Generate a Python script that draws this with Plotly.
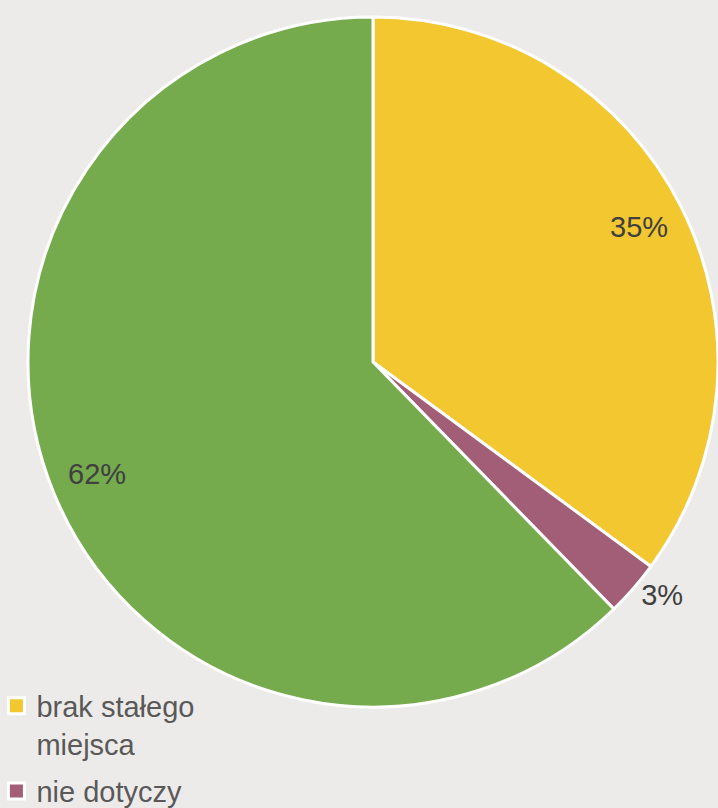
import math
import plotly.graph_objects as go

labels = ["brak stałego<br>miejsca", "nie dotyczy", "stałe miejsce"]
values = [35.1, 2.6, 62.3]
colors = ["#F2C72F", "#A25E77", "#75AA4D"]
text_labels = ["35%", "3%", "62%"]
inside = [True, False, True]

W, H = 718, 808
dom_x = [0.039, 1.0]
dom_y = [0.1238, 0.9802]
FONT = "Liberation Sans, Arial, sans-serif"

fig = go.Figure()
fig.add_trace(go.Pie(
    labels=labels,
    values=values,
    text=[t if not ins else "" for t, ins in zip(text_labels, inside)],
    textinfo="text",
    textposition=["inside" if ins else "outside" for ins in inside],
    sort=False,
    direction="clockwise",
    rotation=0,
    marker=dict(colors=colors, line=dict(color="white", width=3)),
    textfont=dict(family=FONT, size=29, color="#404040"),
    domain=dict(x=dom_x, y=dom_y),
    showlegend=False,
    hoverinfo="label+percent",
))

# legend entries (square markers) matching the pie colours
for i, (lab, col) in enumerate(zip(labels, colors)):
    fig.add_trace(go.Scatter(
        x=[None], y=[None], mode="markers", name=lab, legendgroup=f"g{i}",
        marker=dict(symbol="square", size=16, color=col, line=dict(color="white", width=3)),
        showlegend=True, hoverinfo="skip",
    ))

# inside labels placed near the rim of each slice, derived from the values
total = sum(values)
cx = (dom_x[0] + dom_x[1]) / 2
cy = (dom_y[0] + dom_y[1]) / 2
r_px = min((dom_x[1] - dom_x[0]) * W, (dom_y[1] - dom_y[0]) * H) / 2
cum = 0.0
for v, t, ins in zip(values, text_labels, inside):
    mid = (cum + v / 2) / total * 2 * math.pi
    cum += v
    if not ins:
        continue
    rr = 0.865 * r_px
    fig.add_annotation(
        x=cx + rr * math.sin(mid) / W, y=cy + rr * math.cos(mid) / H,
        xref="paper", yref="paper", xanchor="center", yanchor="middle",
        text=t, showarrow=False,
        font=dict(family=FONT, size=29, color="#404040"),
    )

fig.update_layout(
    width=W,
    height=H,
    margin=dict(l=0, r=0, t=0, b=0, autoexpand=False),
    paper_bgcolor="#EDEBE9",
    plot_bgcolor="#EDEBE9",
    xaxis=dict(visible=False),
    yaxis=dict(visible=False),
    showlegend=True,
    legend=dict(
        x=-0.005, y=0.158, xanchor="left", yanchor="top",
        font=dict(family=FONT, size=29, color="#595959"),
        bgcolor="rgba(0,0,0,0)",
        traceorder="grouped",
        tracegroupgap=7,
        valign="top",
    ),
)

fig.write_html("out.html")
